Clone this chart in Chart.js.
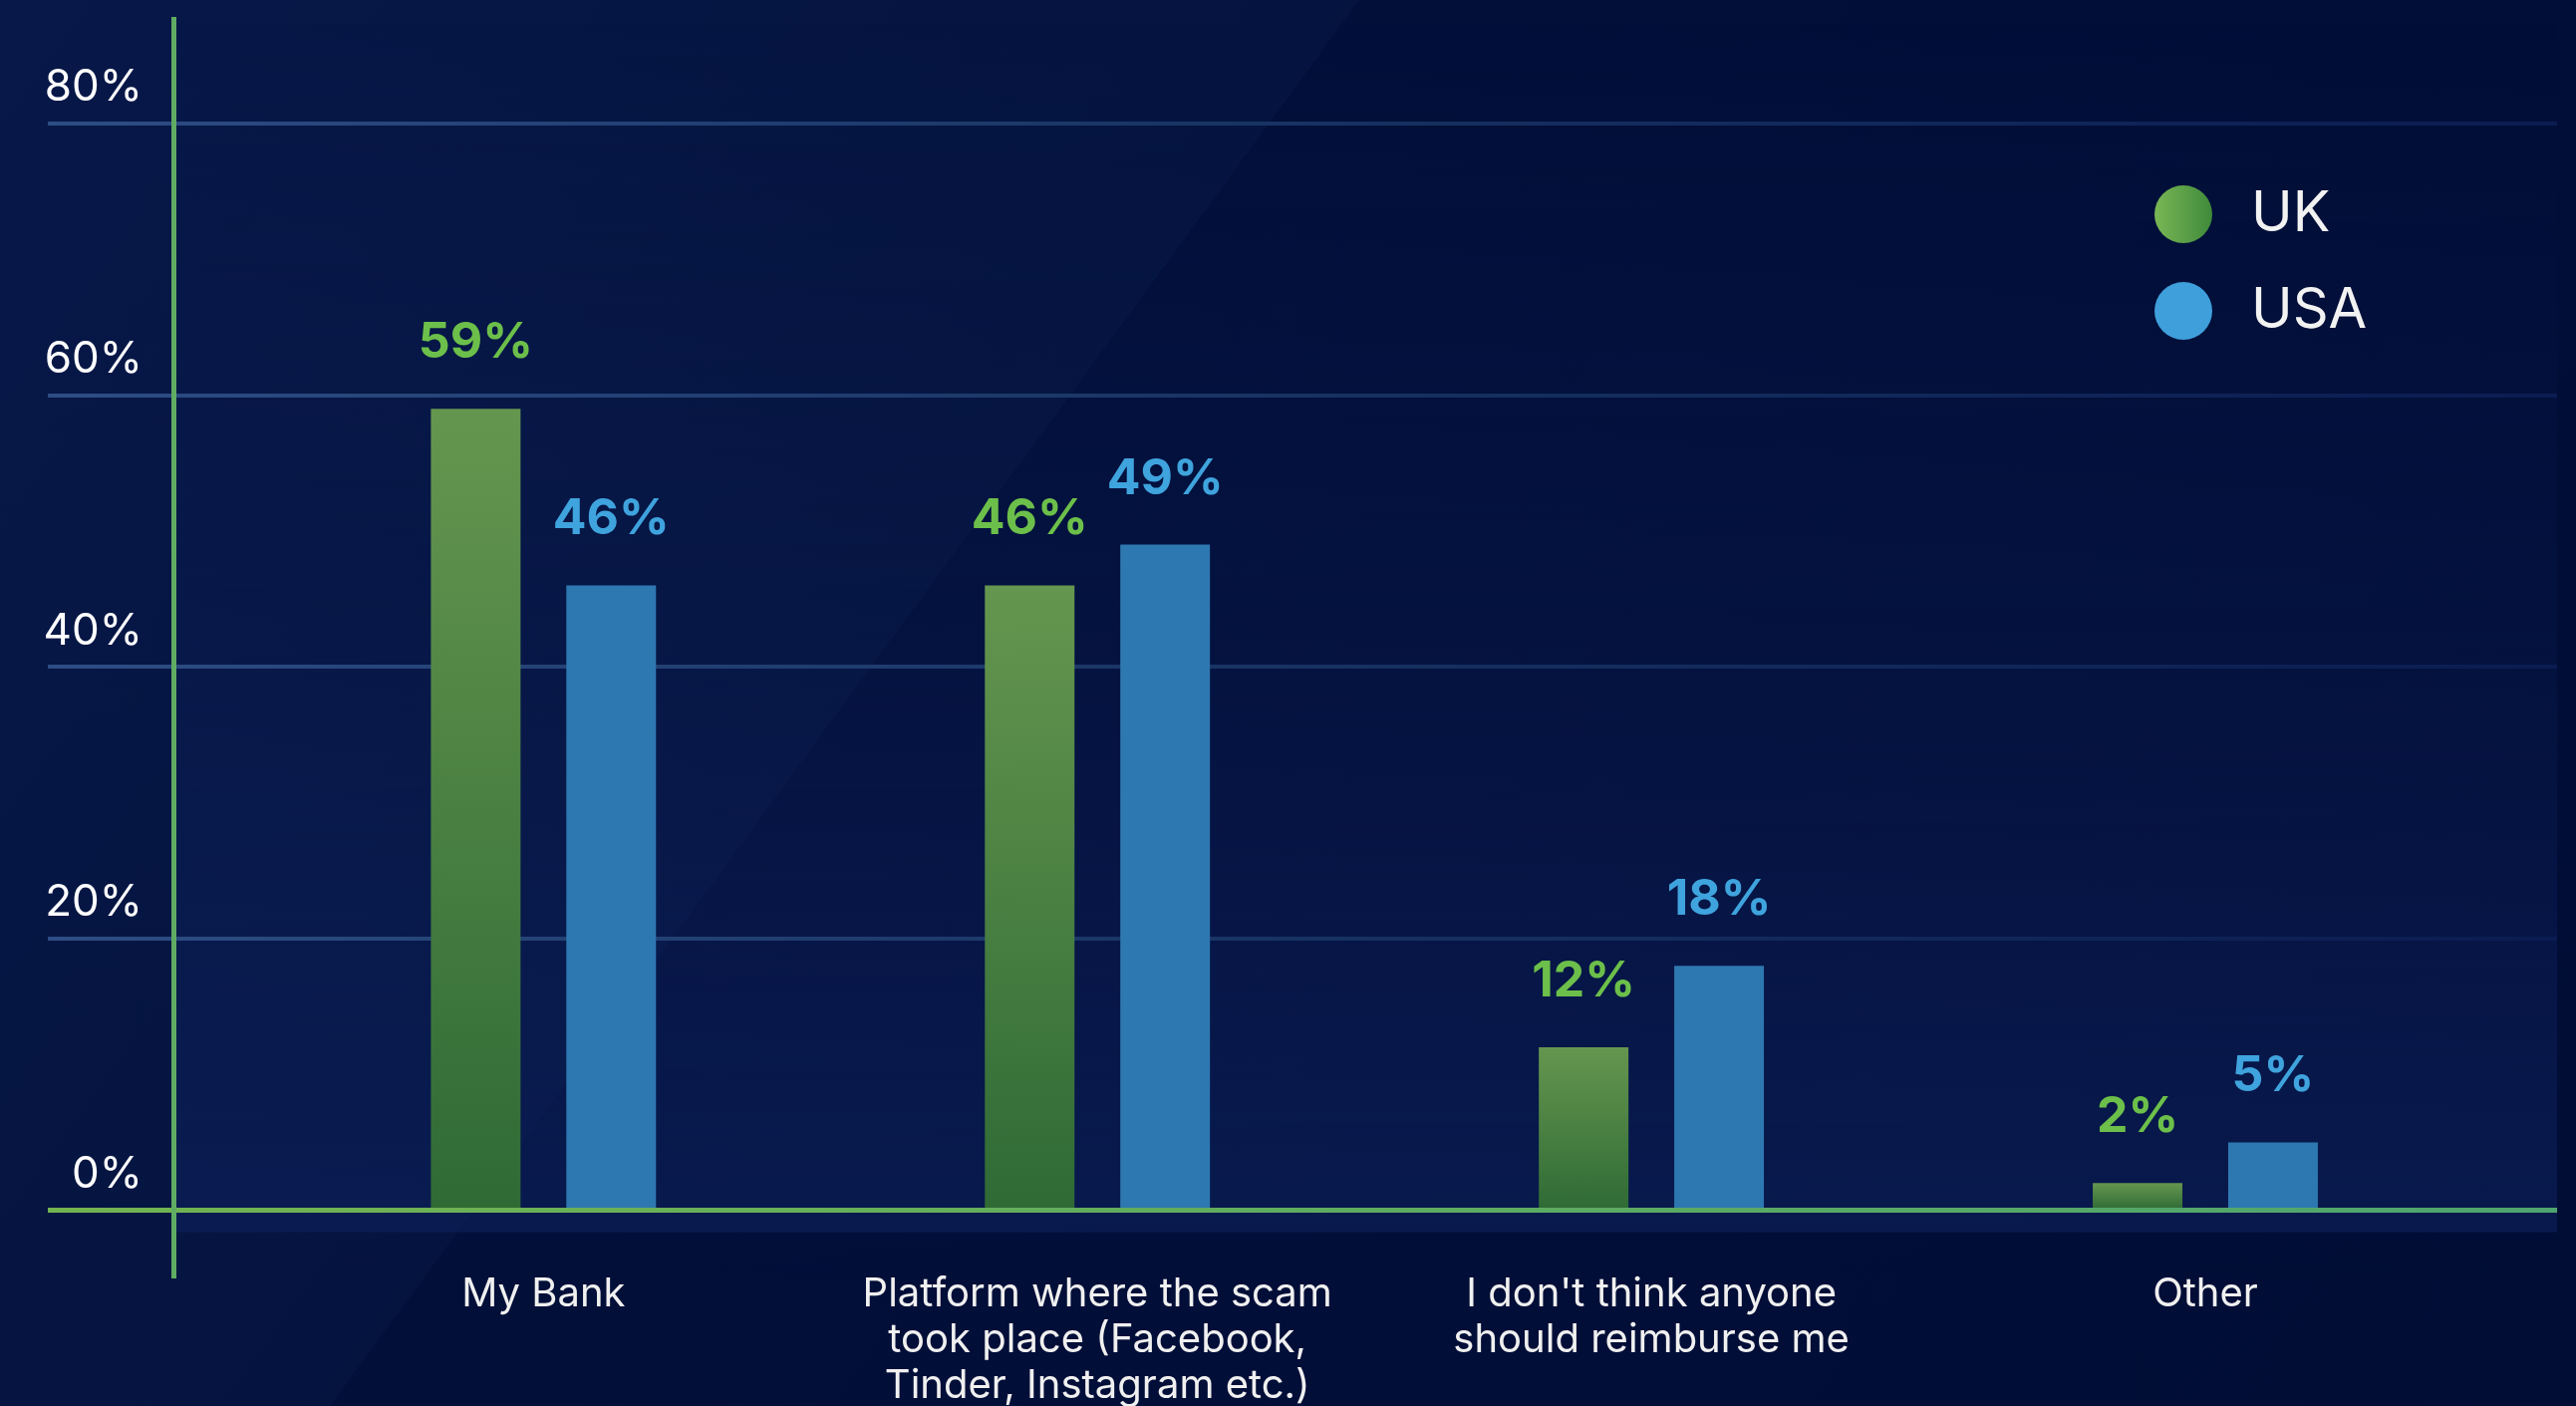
<!DOCTYPE html>
<html>
<head>
<meta charset="utf-8">
<title>Who should reimburse the victim</title>
<script src="https://cdn.jsdelivr.net/npm/chart.js@4.4.1/dist/chart.umd.min.js"></script>
<style>
  html, body { margin: 0; padding: 0; }
  body {
    width: 2585px;
    height: 1411px;
    overflow: hidden;
    background: linear-gradient(126.2deg, #071849 0%, #05143f 37.7%, #020f39 37.7%, #010d35 100%);
  }
  .wrap { position: relative; width: 2585px; height: 1411px; }
</style>
</head>
<body>
<div class="wrap"><canvas id="myChart"></canvas></div>
<script>
const categories = [
  ['My Bank'],
  ['Platform where the scam', 'took place (Facebook,', 'Tinder, Instagram etc.)'],
  ["I don't think anyone", 'should reimburse me'],
  ['Other']
];
const seriesNames = ['UK', 'USA'];
const ukValues = [59, 46, 12, 2];
const usaValues = [46, 49, 18, 5];
const yTicks = [0, 20, 40, 60, 80];

// gridlines fade out to the right, the zero line is green
function gridColor(context) {
  const chart = context.chart;
  const area = chart.chartArea;
  if (!area) return '#1d3a6e';
  const g = chart.ctx.createLinearGradient(area.left - 126, 0, area.right, 0);
  if (context.tick && context.tick.value === 0) {
    g.addColorStop(0, '#72b450');
    g.addColorStop(1, '#4ea56f');
  } else {
    g.addColorStop(0, '#2d4d84');
    g.addColorStop(0.55, '#15305f');
    g.addColorStop(1, '#0b1c52');
  }
  return g;
}

// each UK bar goes from light green at the top to dark green at the base
function ukFill(context) {
  const chart = context.chart;
  const y = chart.scales.y;
  if (!chart.chartArea || !y || !context.parsed) return '#4d8045';
  const top = y.getPixelForValue(context.parsed.y);
  const base = y.getPixelForValue(0);
  const g = chart.ctx.createLinearGradient(0, top, 0, base);
  g.addColorStop(0, '#65964f');
  g.addColorStop(1, '#2f6a35');
  return g;
}

const plotShade = {
  id: 'plotShade',
  beforeDraw(chart) {
    const c = chart.ctx, area = chart.chartArea;
    const bottom = chart.scales.y.getPixelForValue(0) + 22;
    const g = c.createLinearGradient(0, area.top, 0, bottom);
    g.addColorStop(0, 'rgba(13,32,90,0)');
    g.addColorStop(0.5, 'rgba(13,32,90,0.22)');
    g.addColorStop(1, 'rgba(13,32,90,0.65)');
    c.save();
    c.fillStyle = g;
    c.fillRect(area.left, area.top, area.right - area.left, bottom - area.top);
    c.restore();
  }
};

const valueLabels = {
  id: 'valueLabels',
  afterDatasetsDraw(chart) {
    const c = chart.ctx;
    c.save();
    c.font = 'bold 50px Inter';
    c.textAlign = 'center';
    c.textBaseline = 'alphabetic';
    chart.data.datasets.forEach((ds, i) => {
      chart.getDatasetMeta(i).data.forEach((bar, j) => {
        c.fillStyle = ds.labelColor;
        c.fillText(ds.data[j].y + '%', bar.x, bar.y - 51);
      });
    });
    c.restore();
  }
};

const sideKey = {
  id: 'sideKey',
  afterDraw(chart) {
    const c = chart.ctx, area = chart.chartArea;
    const x = area.right - 375;
    c.save();
    c.font = '56px Inter';
    c.textBaseline = 'middle';
    c.textAlign = 'left';
    chart.data.datasets.forEach((ds, i) => {
      const y = area.top + 196 + i * 97;
      let fill = ds.keyColor;
      if (Array.isArray(fill)) {
        const g = c.createLinearGradient(x - 29, 0, x + 29, 0);
        g.addColorStop(0, fill[0]);
        g.addColorStop(1, fill[1]);
        fill = g;
      }
      c.fillStyle = fill;
      c.beginPath();
      c.arc(x, y, 29, 0, Math.PI * 2);
      c.fill();
      c.fillStyle = '#f2f2f2';
      c.fillText(ds.label, x + 68, y);
    });
    c.restore();
  }
};

const ctx = document.getElementById('myChart');

new Chart(ctx, {
  type: 'bar',
  data: {
    datasets: [{
      label: seriesNames[0],
      data: ukValues.map((v, i) => ({x: i, y: v})),
      backgroundColor: ukFill,
      keyColor: ['#7ab655', '#3f8a3b'],
      labelColor: '#6cbf4a'
    }, {
      label: seriesNames[1],
      data: usaValues.map((v, i) => ({x: i, y: v})),
      backgroundColor: '#2e78b1',
      keyColor: '#3e9fdb',
      labelColor: '#3fa3dd'
    }]
  },
  options: {
    responsive: true,
    maintainAspectRatio: false,
    animation: false,
    categoryPercentage: 0.489,
    barPercentage: 0.662,
    layout: {
      padding: {top: 19, right: 19, left: 24, bottom: 0}
    },
    plugins: {
      legend: {display: false},
      tooltip: {enabled: false}
    },
    scales: {
      x: {
        type: 'linear',
        offset: false,
        min: -0.668,
        max: 3.635,
        afterBuildTicks: scale => { scale.ticks = categories.map((_, i) => ({value: i})); },
        afterFit: scale => { scale.height = 131; },
        grid: {display: false, drawTicks: false, offset: false},
        border: {display: false},
        ticks: {
          color: '#f0f0f0',
          font: {family: 'Inter', size: 40, lineHeight: 1.15},
          padding: -4,
          maxRotation: 0,
          autoSkip: false,
          callback: value => categories[value]
        }
      },
      y: {
        min: -4.8,
        max: 87.7,
        afterBuildTicks: scale => { scale.ticks = yTicks.map(v => ({value: v})); },
        afterFit: scale => { scale.width = 150; },
        border: {display: true, color: '#5fac62', width: 5},
        grid: {
          color: gridColor,
          lineWidth: c => (c.tick && c.tick.value === 0 ? 5 : 4),
          tickLength: 126
        },
        ticks: {
          color: '#ffffff',
          font: {family: 'Inter', size: 44},
          padding: -95,
          labelOffset: -36,
          callback: value => value + '%'
        }
      }
    }
  },
  plugins: [plotShade, valueLabels, sideKey]
});
</script>
</body>
</html>
